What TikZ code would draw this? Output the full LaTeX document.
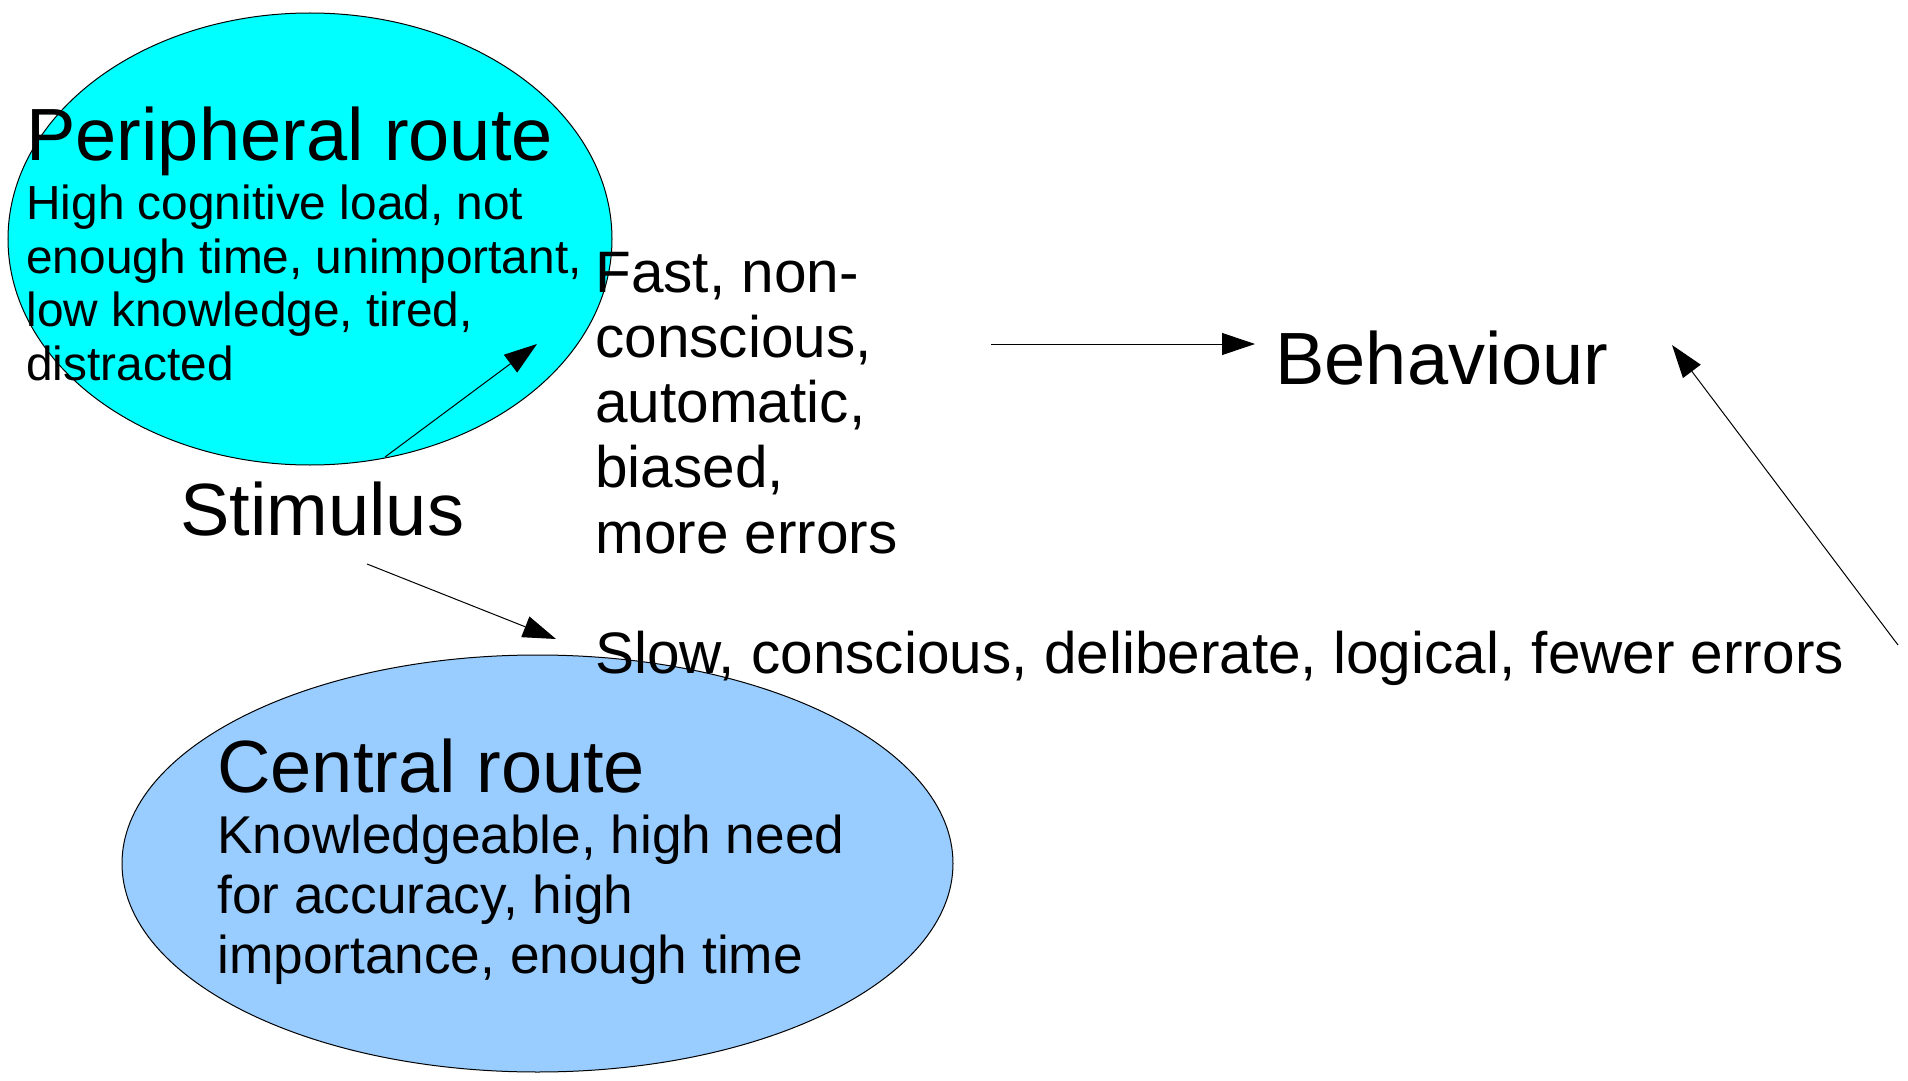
\documentclass[tikz,border=0pt]{standalone}
\usepackage{fontspec}
\setmainfont{Liberation Sans}
\usetikzlibrary{shapes.geometric,arrows.meta}
\definecolor{periphcyan}{RGB}{0,255,255}
\definecolor{centralblue}{HTML}{99CCFF}

\begin{document}
\begin{tikzpicture}
  [x=0.5pt,y=-0.5pt,
   every node/.style={inner sep=0pt,anchor=base west,align=left},
   route/.style={ellipse,draw,line width=0.5pt,anchor=center},
   big/.style={font=\fontsize{37}{42}\selectfont},
   mid/.style={font=\fontsize{29.25}{32.6}\selectfont},
   small/.style={font=\fontsize{23.9}{26.7}\selectfont},
   body/.style={font=\fontsize{26.6}{29.8}\selectfont},
   link/.style={-{Triangle[length=16.5pt,width=11pt]},line width=0.5pt}]
  \useasboundingbox (0,0) rectangle (1908,1081);

  % the two routes
  \node (periph) at (310,239) [route,fill=periphcyan,minimum width=302pt,minimum height=226pt] {};
  \node (central) at (537.5,863.5) [route,fill=centralblue,minimum width=415.5pt,minimum height=208.5pt] {};

  % multi-line texts sit on the baseline of their last line
  \node (ptitle) at (26,161) [big] {Peripheral route};
  \node (pbody) at (26,380) [small] {High cognitive load, not\\enough time, unimportant,\\low knowledge, tired,\\distracted};
  \node (ctitle) at (217,792) [big] {Central route};
  \node (cbody) at (217,973) [body] {Knowledgeable, high need\\for accuracy, high\\importance, enough time};

  \node (stim) at (180,535) [big] {Stimulus};
  \node (fast) at (595,553) [mid] {Fast, non-\\conscious,\\automatic,\\biased,\\more errors};
  \node (slow) at (595,673) [mid] {Slow, conscious, deliberate, logical, fewer errors};
  \node (behav) at (1275,384) [big] {Behaviour};

  % arrow ends
  \coordinate (stimup) at (385,457);
  \coordinate (periphin) at (537,344);
  \coordinate (stimdown) at (367,564);
  \coordinate (centralin) at (556,639);
  \coordinate (fastout) at (991,344);
  \coordinate (behavin) at (1255,344);
  \coordinate (slowout) at (1898,645);
  \coordinate (behavright) at (1672,345);

  \foreach \from/\to in {stimup/periphin,stimdown/centralin,fastout/behavin,slowout/behavright}
    \draw[link] (\from) -- (\to);
\end{tikzpicture}
\end{document}
